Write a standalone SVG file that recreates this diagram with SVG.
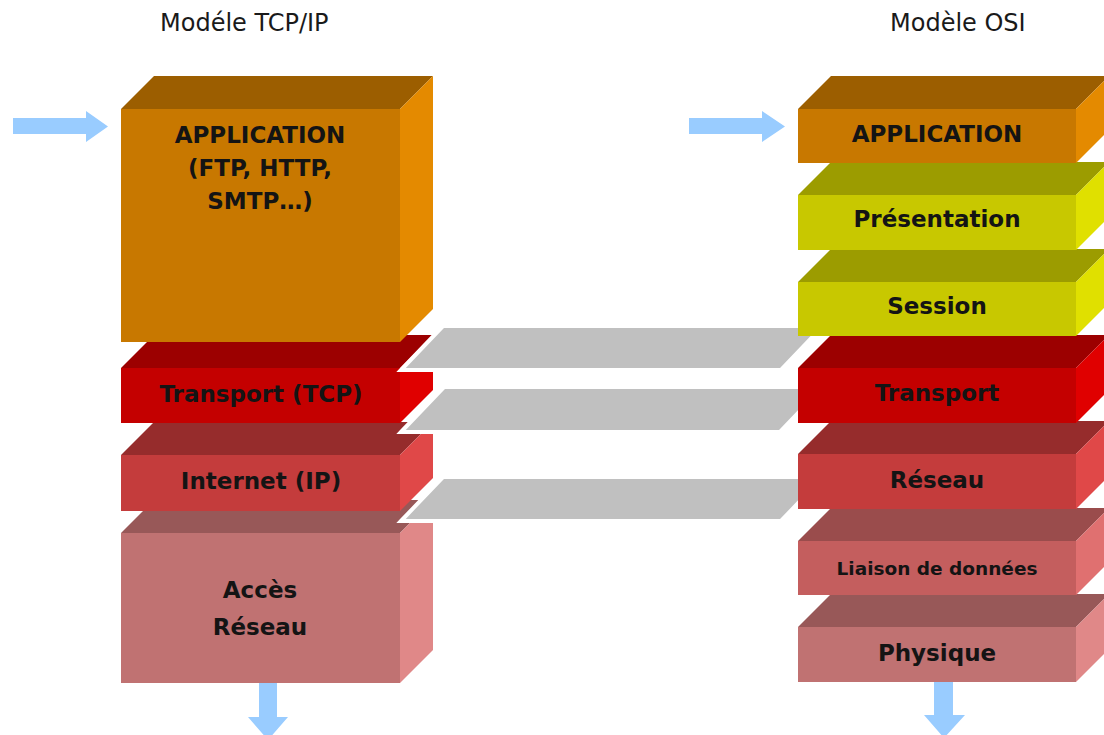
<svg xmlns="http://www.w3.org/2000/svg" width="1104" height="735" viewBox="0 0 1104 735">
  <style>
    .title { font-family: "DejaVu Sans", "Liberation Sans", sans-serif; font-size: 24px; fill: #1a1a1a; }
    .lbl { font-family: "DejaVu Sans", "Liberation Sans", sans-serif; font-weight: bold; font-size: 23px; fill: #141414; text-anchor: middle; }
    .small { font-size: 18.5px; }
    .app .f { fill: #C87800; } .app .t { fill: #9C5E00; } .app .s { fill: #E48A00; }
    .yel .f { fill: #C8C800; } .yel .t { fill: #9C9C00; } .yel .s { fill: #E0E000; }
    .tr .f { fill: #C40000; } .tr .t { fill: #9C0000; } .tr .s { fill: #E00000; }
    .net .f { fill: #C43C3C; } .net .t { fill: #962C2C; } .net .s { fill: #E04848; }
    .dl .f { fill: #C45E5E; } .dl .t { fill: #9A4C4C; } .dl .s { fill: #E07070; }
    .phy .f { fill: #C07272; } .phy .t { fill: #985858; } .phy .s { fill: #E08888; }
    .plate { fill: #C0C0C0; stroke: #FFFFFF; stroke-width: 4; stroke-linejoin: miter; }
    .arrow { fill: #99CCFF; }
  </style>

  <rect width="1104" height="735" fill="#FFFFFF"/>

  <!-- column titles -->
  <text class="title" x="160" y="31">Modéle TCP/IP</text>
  <text class="title" x="890" y="31">Modèle OSI</text>

  <!-- TCP/IP stack, drawn bottom-up so upper blocks overlap lower top faces -->
  <g id="tcp-acces" class="phy">
    <polygon class="t" points="121,533 154,500 433,500 400,533"/>
    <polygon class="s" points="400,533 433,500 433,650 400,683"/>
    <rect class="f" x="121" y="533" width="279" height="150"/>
    <text class="lbl" x="260" y="598">Accès</text>
    <text class="lbl" x="260" y="635">Réseau</text>
  </g>
  <g id="tcp-internet" class="net">
    <polygon class="t" points="121,455 154,422 433,422 400,455"/>
    <polygon class="s" points="400,455 433,422 433,478 400,511"/>
    <rect class="f" x="121" y="455" width="279" height="56"/>
    <text class="lbl" x="261" y="489">Internet (IP)</text>
  </g>
  <g id="tcp-transport" class="tr">
    <polygon class="t" points="121,368 154,335 433,335 400,368"/>
    <polygon class="s" points="400,368 433,335 433,390 400,423"/>
    <rect class="f" x="121" y="368" width="279" height="55"/>
    <text class="lbl" x="261" y="402">Transport (TCP)</text>
  </g>
  <g id="tcp-application" class="app">
    <polygon class="t" points="121,109 154,76 433,76 400,109"/>
    <polygon class="s" points="400,109 433,76 433,309 400,342"/>
    <rect class="f" x="121" y="109" width="279" height="233"/>
    <text class="lbl" x="260" y="143">APPLICATION</text>
    <text class="lbl" x="260" y="176">(FTP, HTTP,</text>
    <text class="lbl" x="260" y="209">SMTP…)</text>
  </g>

  <!-- correspondence bands between the two stacks -->
  <g id="links">
    <polygon class="plate" points="401,370 443,326 823,326 781,370"/>
    <polygon class="plate" points="401,432 444,387 823,387 780,432"/>
    <polygon class="plate" points="401,521 443,477 823,477 781,521"/>
  </g>

  <!-- OSI stack -->
  <g id="osi-physique" class="phy">
    <polygon class="t" points="798,627 831,594 1109,594 1076,627"/>
    <polygon class="s" points="1076,627 1109,594 1109,649 1076,682"/>
    <rect class="f" x="798" y="627" width="278" height="55"/>
    <text class="lbl" x="937" y="661">Physique</text>
  </g>
  <g id="osi-liaison" class="dl">
    <polygon class="t" points="798,541 831,508 1109,508 1076,541"/>
    <polygon class="s" points="1076,541 1109,508 1109,562 1076,595"/>
    <rect class="f" x="798" y="541" width="278" height="54"/>
    <text class="lbl small" x="937" y="575">Liaison de données</text>
  </g>
  <g id="osi-reseau" class="net">
    <polygon class="t" points="798,454 831,421 1109,421 1076,454"/>
    <polygon class="s" points="1076,454 1109,421 1109,476 1076,509"/>
    <rect class="f" x="798" y="454" width="278" height="55"/>
    <text class="lbl" x="937" y="488">Réseau</text>
  </g>
  <g id="osi-transport" class="tr">
    <polygon class="t" points="798,368 831,335 1109,335 1076,368"/>
    <polygon class="s" points="1076,368 1109,335 1109,390 1076,423"/>
    <rect class="f" x="798" y="368" width="278" height="55"/>
    <text class="lbl" x="937" y="401">Transport</text>
  </g>
  <g id="osi-session" class="yel">
    <polygon class="t" points="798,282 831,249 1109,249 1076,282"/>
    <polygon class="s" points="1076,282 1109,249 1109,303 1076,336"/>
    <rect class="f" x="798" y="282" width="278" height="54"/>
    <text class="lbl" x="937" y="314">Session</text>
  </g>
  <g id="osi-presentation" class="yel">
    <polygon class="t" points="798,195 831,162 1109,162 1076,195"/>
    <polygon class="s" points="1076,195 1109,162 1109,217 1076,250"/>
    <rect class="f" x="798" y="195" width="278" height="55"/>
    <text class="lbl" x="937" y="227">Présentation</text>
  </g>
  <g id="osi-application" class="app">
    <polygon class="t" points="798,109 831,76 1109,76 1076,109"/>
    <polygon class="s" points="1076,109 1109,76 1109,130 1076,163"/>
    <rect class="f" x="798" y="109" width="278" height="54"/>
    <text class="lbl" x="937" y="142">APPLICATION</text>
  </g>

  <!-- data flow arrows -->
  <g id="connectors">
    <polygon class="arrow" points="13,118 86,118 86,111 108,126.5 86,142 86,134 13,134"/>
    <polygon class="arrow" points="689,118 762,118 762,111 785,126.5 762,142 762,134 689,134"/>
    <polygon class="arrow" points="259,683 277,683 277,717 288,717 268,740 248,717 259,717"/>
    <polygon class="arrow" points="934,682 953,682 953,715 965,715 944,738 924,715 934,715"/>
  </g>
</svg>
